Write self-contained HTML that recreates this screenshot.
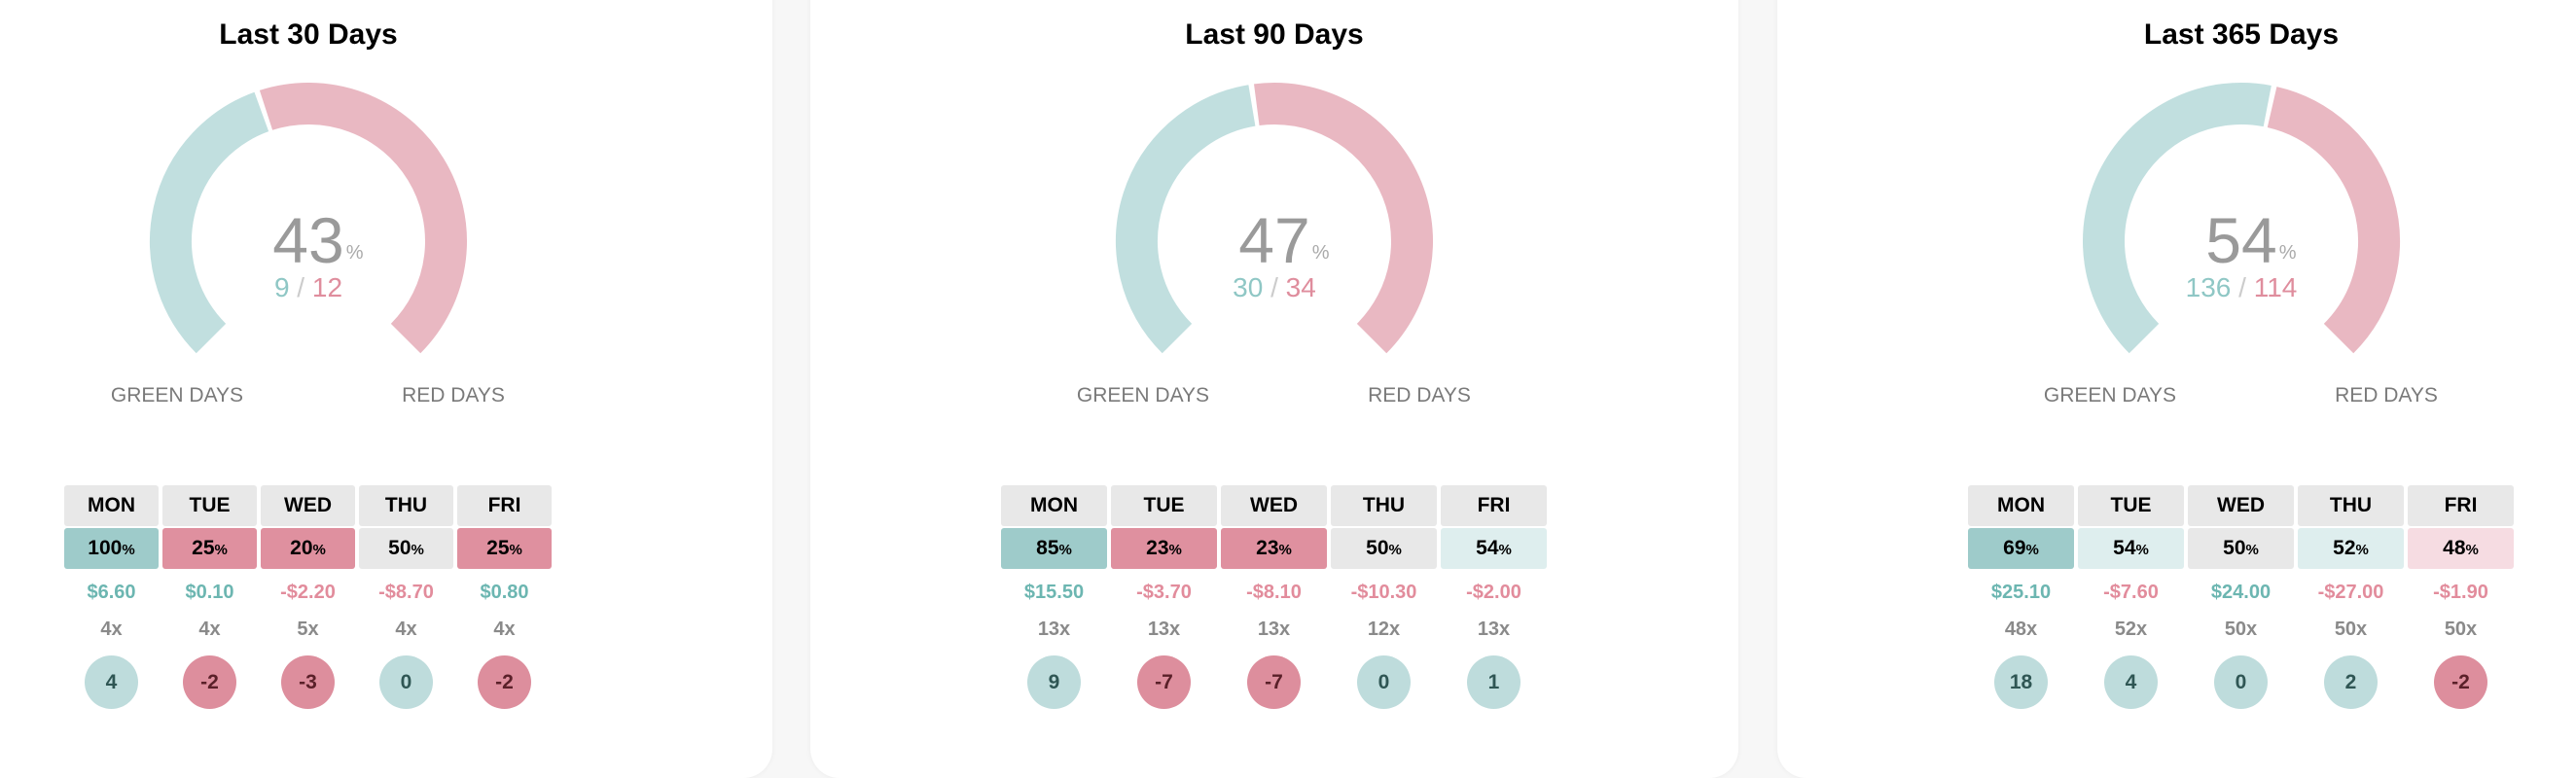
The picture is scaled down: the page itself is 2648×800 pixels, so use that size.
<!DOCTYPE html>
<html><head><meta charset="utf-8"><style>
*{margin:0;padding:0;box-sizing:border-box}
body{width:2648px;height:768px;overflow:hidden;background:#f7f7f7;font-family:"Liberation Sans",Arial,sans-serif;position:relative}
.card{position:absolute;top:-30px;width:954px;height:830px;background:#fff;border-radius:30px;box-shadow:0 0 6px rgba(0,0,0,0.05)}
.in{position:absolute;left:0;top:30px;width:954px;height:768px}
.title{position:absolute;left:0;width:954px;top:19px;text-align:center;font-weight:bold;font-size:30px;color:#000}
svg{position:absolute;left:0;top:0}
.big{position:absolute;left:377px;width:200px;text-align:center;top:214px;font-size:66px;color:#9a9a9a;line-height:66px}
.big span{position:absolute;font-size:20px;line-height:20px;top:36px;margin-left:2px;color:#aaa}
.sub{position:absolute;left:327px;width:300px;text-align:center;top:280px;font-size:28px;line-height:32px;color:#ccc}
.g{color:#8fc7c5}.r{color:#df8d9d}
.lbl{position:absolute;top:396px;font-size:21px;color:#7a7a7a;width:200px;text-align:center;line-height:22px}
.tbl{position:absolute;top:499px}
.cell{position:absolute;height:42px;border-radius:3px;text-align:center;line-height:42px;font-weight:bold;font-size:21px;color:#000}
.cell small{font-size:15px}
.h{background:#e8e8e8}.ts{background:#9ecbca}.ps{background:#df909f}.tl{background:#deeeee}.pl{background:#f6dce2}
.d{position:absolute;top:98px;text-align:center;font-weight:bold;font-size:20px;line-height:24px}
.dt{color:#6cb6b1}.dp{color:#e28c9c}
.c{position:absolute;top:136px;text-align:center;font-weight:bold;font-size:20px;color:#8a8a8a;line-height:24px}
.o{position:absolute;top:175px;width:55px;height:55px;border-radius:50%;text-align:center;line-height:55px;font-weight:bold;font-size:21px}
.ot{background:#bedcdc;color:#2f5654}.op{background:#dd8e9d;color:#5a2029}
</style></head><body>

<!-- CARD 1 -->
<div class="card" style="left:-160px"><div class="in">
<div class="title">Last 30 Days</div>
<svg width="954" height="420"><g fill="none" stroke-width="43">
<path d="M376.95 348.05 A141.5 141.5 0 0 1 428.83 114.95" stroke="#c1dfdf"/>
<path d="M433.5 113.35 A141.5 141.5 0 0 1 577.05 348.05" stroke="#e9b8c2"/></g></svg>
<div class="big">43<span>%</span></div>
<div class="sub"><span class="g">9</span> / <span class="r">12</span></div>
<div class="lbl" style="left:242px">GREEN DAYS</div>
<div class="lbl" style="left:526px">RED DAYS</div>
<div class="tbl" style="left:226px">
<div class="cell h" style="left:0;width:97px">MON</div><div class="cell h" style="left:101px;width:97px">TUE</div><div class="cell h" style="left:202px;width:97px">WED</div><div class="cell h" style="left:303px;width:97px">THU</div><div class="cell h" style="left:404px;width:97px">FRI</div>
<div class="cell ts" style="top:44px;left:0;width:97px">100<small>%</small></div><div class="cell ps" style="top:44px;left:101px;width:97px">25<small>%</small></div><div class="cell ps" style="top:44px;left:202px;width:97px">20<small>%</small></div><div class="cell h" style="top:44px;left:303px;width:97px">50<small>%</small></div><div class="cell ps" style="top:44px;left:404px;width:97px">25<small>%</small></div>
<div class="d dt" style="left:0;width:97px">$6.60</div><div class="d dt" style="left:101px;width:97px">$0.10</div><div class="d dp" style="left:202px;width:97px">-$2.20</div><div class="d dp" style="left:303px;width:97px">-$8.70</div><div class="d dt" style="left:404px;width:97px">$0.80</div>
<div class="c" style="left:0;width:97px">4x</div><div class="c" style="left:101px;width:97px">4x</div><div class="c" style="left:202px;width:97px">5x</div><div class="c" style="left:303px;width:97px">4x</div><div class="c" style="left:404px;width:97px">4x</div>
<div class="o ot" style="left:21px">4</div><div class="o op" style="left:122px">-2</div><div class="o op" style="left:223px">-3</div><div class="o ot" style="left:324px">0</div><div class="o op" style="left:425px">-2</div>
</div>
</div></div>

<!-- CARD 2 -->
<div class="card" style="left:833px"><div class="in">
<div class="title">Last 90 Days</div>
<svg width="954" height="420"><g fill="none" stroke-width="43">
<path d="M376.95 348.05 A141.5 141.5 0 0 1 453.89 108.4" stroke="#c1dfdf"/>
<path d="M458.77 107.67 A141.5 141.5 0 0 1 577.05 348.05" stroke="#e9b8c2"/></g></svg>
<div class="big">47<span>%</span></div>
<div class="sub"><span class="g">30</span> / <span class="r">34</span></div>
<div class="lbl" style="left:242px">GREEN DAYS</div>
<div class="lbl" style="left:526px">RED DAYS</div>
<div class="tbl" style="left:196px">
<div class="cell h" style="left:0;width:109px">MON</div><div class="cell h" style="left:113px;width:109px">TUE</div><div class="cell h" style="left:226px;width:109px">WED</div><div class="cell h" style="left:339px;width:109px">THU</div><div class="cell h" style="left:452px;width:109px">FRI</div>
<div class="cell ts" style="top:44px;left:0;width:109px">85<small>%</small></div><div class="cell ps" style="top:44px;left:113px;width:109px">23<small>%</small></div><div class="cell ps" style="top:44px;left:226px;width:109px">23<small>%</small></div><div class="cell h" style="top:44px;left:339px;width:109px">50<small>%</small></div><div class="cell tl" style="top:44px;left:452px;width:109px">54<small>%</small></div>
<div class="d dt" style="left:0;width:109px">$15.50</div><div class="d dp" style="left:113px;width:109px">-$3.70</div><div class="d dp" style="left:226px;width:109px">-$8.10</div><div class="d dp" style="left:339px;width:109px">-$10.30</div><div class="d dp" style="left:452px;width:109px">-$2.00</div>
<div class="c" style="left:0;width:109px">13x</div><div class="c" style="left:113px;width:109px">13x</div><div class="c" style="left:226px;width:109px">13x</div><div class="c" style="left:339px;width:109px">12x</div><div class="c" style="left:452px;width:109px">13x</div>
<div class="o ot" style="left:27px">9</div><div class="o op" style="left:140px">-7</div><div class="o op" style="left:253px">-7</div><div class="o ot" style="left:366px">0</div><div class="o ot" style="left:479px">1</div>
</div>
</div></div>

<!-- CARD 3 -->
<div class="card" style="left:1827px"><div class="in">
<div class="title">Last 365 Days</div>
<svg width="954" height="420"><g fill="none" stroke-width="43">
<path d="M376.95 348.05 A141.5 141.5 0 0 1 503.76 109.05" stroke="#c1dfdf"/>
<path d="M508.6 110.07 A141.5 141.5 0 0 1 577.05 348.05" stroke="#e9b8c2"/></g></svg>
<div class="big">54<span>%</span></div>
<div class="sub"><span class="g">136</span> / <span class="r">114</span></div>
<div class="lbl" style="left:242px">GREEN DAYS</div>
<div class="lbl" style="left:526px">RED DAYS</div>
<div class="tbl" style="left:196px">
<div class="cell h" style="left:0;width:109px">MON</div><div class="cell h" style="left:113px;width:109px">TUE</div><div class="cell h" style="left:226px;width:109px">WED</div><div class="cell h" style="left:339px;width:109px">THU</div><div class="cell h" style="left:452px;width:109px">FRI</div>
<div class="cell ts" style="top:44px;left:0;width:109px">69<small>%</small></div><div class="cell tl" style="top:44px;left:113px;width:109px">54<small>%</small></div><div class="cell h" style="top:44px;left:226px;width:109px">50<small>%</small></div><div class="cell tl" style="top:44px;left:339px;width:109px">52<small>%</small></div><div class="cell pl" style="top:44px;left:452px;width:109px">48<small>%</small></div>
<div class="d dt" style="left:0;width:109px">$25.10</div><div class="d dp" style="left:113px;width:109px">-$7.60</div><div class="d dt" style="left:226px;width:109px">$24.00</div><div class="d dp" style="left:339px;width:109px">-$27.00</div><div class="d dp" style="left:452px;width:109px">-$1.90</div>
<div class="c" style="left:0;width:109px">48x</div><div class="c" style="left:113px;width:109px">52x</div><div class="c" style="left:226px;width:109px">50x</div><div class="c" style="left:339px;width:109px">50x</div><div class="c" style="left:452px;width:109px">50x</div>
<div class="o ot" style="left:27px">18</div><div class="o ot" style="left:140px">4</div><div class="o ot" style="left:253px">0</div><div class="o ot" style="left:366px">2</div><div class="o op" style="left:479px">-2</div>
</div>
</div></div>

</body></html>
